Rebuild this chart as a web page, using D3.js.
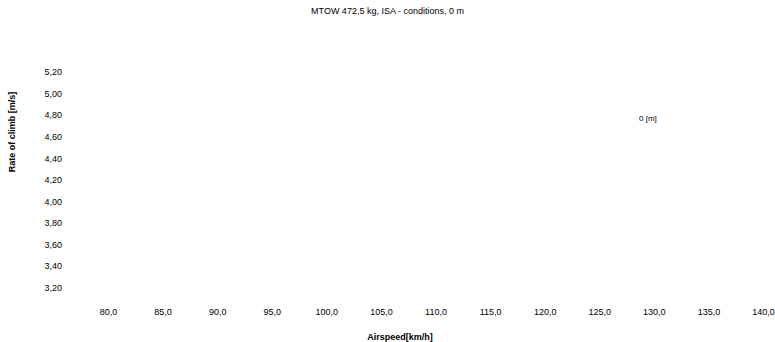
<!DOCTYPE html>
<html><head><meta charset="utf-8">
<script src="https://cdn.jsdelivr.net/npm/d3@7"></script>
<style>body{margin:0;background:#fff}svg{display:block}text{font-family:"Liberation Sans",Arial,sans-serif}</style>
</head><body>
<svg id="c" width="775" height="342"></svg>
<script>
const title = "MTOW 472,5 kg, ISA - conditions, 0 m";
const xTitle = "Airspeed[km/h]";
const yTitle = "Rate of climb [m/s]";
const xTicks = [80,85,90,95,100,105,110,115,120,125,130,135,140];
const yTicks = [3.2,3.4,3.6,3.8,4.0,4.2,4.4,4.6,4.8,5.0,5.2];
const seriesNames = ["0 [m]"];
// No data points are visible in the reference chart
const seriesAirspeed = [];
const seriesClimb = [];

const svg = d3.select("#c");
const loc = d3.formatLocale({decimal:",",thousands:".",grouping:[3],currency:["",""]});
const fx = loc.format(".1f"), fy = loc.format(".2f");
const x = d3.scaleLinear().domain([80,140]).range([108,763]);
const y = d3.scaleLinear().domain([3.2,5.2]).range([287.5,72]);

svg.append("text").attr("x",387.5).attr("y",14).attr("text-anchor","middle")
  .attr("font-size",9).attr("fill","#000").text(title);

const gx = svg.append("g").attr("transform","translate(0,309)")
  .call(d3.axisBottom(x).tickValues(xTicks).tickFormat(fx).tickSize(0).tickPadding(0));
gx.select(".domain").remove();
gx.selectAll("text").attr("font-size",9).attr("fill","#000").attr("font-family",null);

const gy = svg.append("g").attr("transform","translate(62,0)")
  .call(d3.axisLeft(y).tickValues(yTicks).tickFormat(fy).tickSize(0).tickPadding(0));
gy.select(".domain").remove();
gy.selectAll("text").attr("font-size",9).attr("fill","#000").attr("font-family",null);

svg.append("text").attr("x",400).attr("y",340).attr("text-anchor","middle")
  .attr("font-size",9).attr("font-weight","bold").text(xTitle);
svg.append("text").attr("transform","translate(15,132) rotate(-90)").attr("text-anchor","middle")
  .attr("font-size",9).attr("font-weight","bold").text(yTitle);

const line = d3.line().x(d=>x(d[0])).y(d=>y(d[1]));
svg.append("path").datum(seriesAirspeed.map((v,i)=>[v,seriesClimb[i]]))
  .attr("d",line).attr("fill","none").attr("stroke","#004586");

svg.selectAll(".leg").data(seriesNames).join("text").attr("class","leg")
  .attr("x",639).attr("y",121).attr("font-size",8).text(d=>d);
</script>
</body></html>
